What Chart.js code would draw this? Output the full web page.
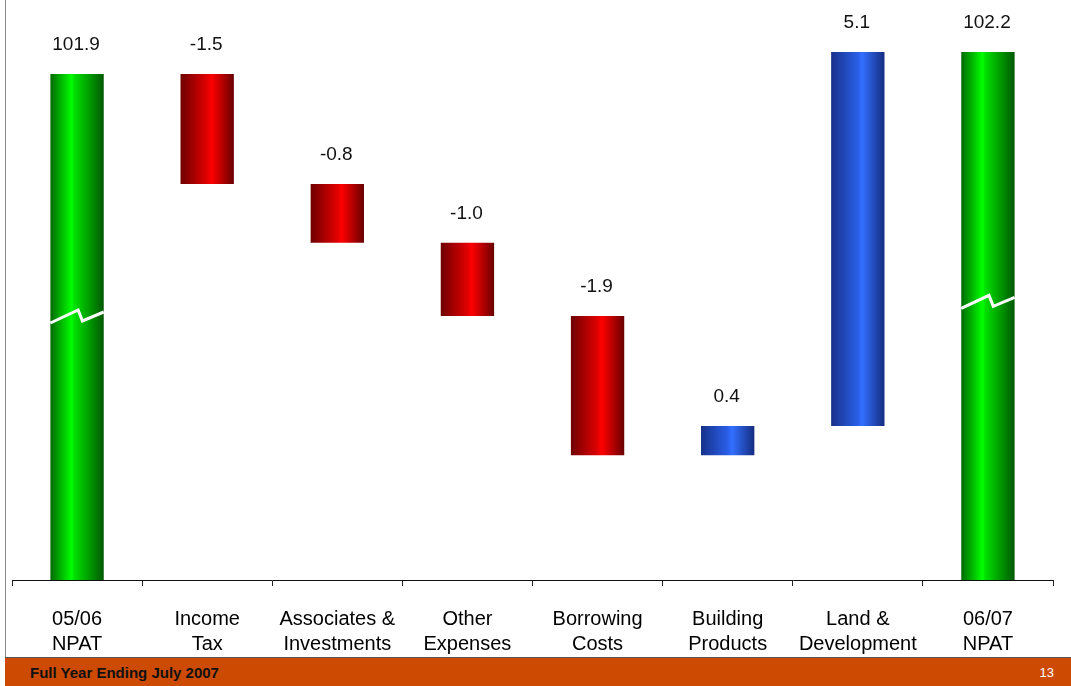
<!DOCTYPE html>
<html>
<head>
<meta charset="utf-8">
<script src="https://cdn.jsdelivr.net/npm/chart.js@4/dist/chart.umd.min.js"></script>
<style>
	body { margin: 0; background: #fff; font-family: Arial, 'Liberation Sans', sans-serif; }
	#slide { position: relative; width: 1071px; height: 686px; overflow: hidden; }
	#chartBox { position: absolute; left: 0; top: 0; width: 1071px; height: 657px; }
	#edge { position: absolute; left: 5px; top: 0; width: 0; height: 657px; border-left: 1px solid #8a8a8a; }
	#footer { position: absolute; left: 5px; top: 657px; width: 1066px; height: 29px; background: #cc4a02; border-top: 1px solid #555; box-sizing: border-box; }
	#footer .title { position: absolute; left: 25px; top: 6px; font-size: 15px; font-weight: bold; color: #111; }
	#footer .page { position: absolute; right: 17px; top: 7px; font-size: 13px; color: #fff; }
</style>
</head>
<body>
<div id="slide">
	<div id="chartBox"><canvas id="chart"></canvas></div>
	<div id="edge"></div>
	<div id="footer"><span class="title">Full Year Ending July 2007</span><span class="page">13</span></div>
</div>
<script>
const categories = [
	['05/06', 'NPAT'],
	['Income', 'Tax'],
	['Associates &', 'Investments'],
	['Other', 'Expenses'],
	['Borrowing', 'Costs'],
	['Building', 'Products'],
	['Land &', 'Development'],
	['06/07', 'NPAT'],
];
const openingNpat = 101.9;
const closingNpat = 102.2;
const movements = [-1.5, -0.8, -1.0, -1.9, 0.4, 5.1];
const axisFloor = 95; // broken axis starts here

// build floating [from, to] ranges for the waterfall
const ranges = [[axisFloor, openingNpat]];
const valueLabels = [openingNpat.toFixed(1)];
const kinds = ['total'];
let running = openingNpat;
movements.forEach((m) => {
	ranges.push([running, running + m]);
	running += m;
	valueLabels.push(m.toFixed(1));
	kinds.push(m < 0 ? 'down' : 'up');
});
ranges.push([axisFloor, closingNpat]);
valueLabels.push(closingNpat.toFixed(1));
kinds.push('total');

const BAR_PCT = 0.41;
const shades = {
	total: ['#006a00', '#00ff00', '#00e000', '#005800'],
	down: ['#6e0000', '#e00000', '#ff0000', '#680000'],
	up: ['#17318a', '#2a5ee8', '#3370ff', '#152c80'],
};

const barFill = (ctx) => {
	const chart = ctx.chart;
	const xs = chart.scales.x;
	const kind = kinds[ctx.dataIndex] || 'total';
	const s = shades[kind];
	if (!xs || ctx.type !== 'data') return s[1];
	const cx = xs.getPixelForValue(ctx.dataIndex);
	const w = (xs.width / categories.length) * BAR_PCT;
	if (!isFinite(cx) || !isFinite(w) || w <= 0) return s[1];
	const g = chart.ctx.createLinearGradient(cx - w / 2, 0, cx + w / 2, 0);
	g.addColorStop(0, s[0]);
	g.addColorStop(kind === 'total' ? 0.4 : 0.5, s[1]);
	g.addColorStop(kind === 'total' ? 0.45 : 0.58, s[2]);
	g.addColorStop(1, s[3]);
	return g;
};

// value labels above bars + axis-break marks on the total bars
const waterfallDecor = {
	id: 'waterfallDecor',
	afterDatasetsDraw(chart) {
		const { ctx } = chart;
		const meta = chart.getDatasetMeta(0);
		ctx.save();
		ctx.font = '19px Arial, "Liberation Sans", sans-serif';
		ctx.fillStyle = '#111';
		ctx.textAlign = 'center';
		ctx.textBaseline = 'middle';
		meta.data.forEach((bar, i) => {
			const top = Math.min(bar.y, bar.base);
			ctx.fillText(valueLabels[i], bar.x - 1, top - 29);
		});

		const breaks = { 0: 98.6, 7: 98.8 };
		const ys = chart.scales.y;
		ctx.strokeStyle = '#fff';
		ctx.lineWidth = 3;
		ctx.lineJoin = 'miter';
		Object.keys(breaks).forEach((k) => {
			const bar = meta.data[k];
			const w = bar.width;
			const l = bar.x - w / 2;
			const yc = ys.getPixelForValue(breaks[k]);
			ctx.beginPath();
			ctx.moveTo(l, yc + 7);
			ctx.lineTo(l + w * 0.52, yc - 6);
			ctx.lineTo(l + w * 0.6, yc + 5);
			ctx.lineTo(l + w, yc - 4);
			ctx.stroke();
		});
		ctx.restore();
	},
};

new Chart(document.getElementById('chart'), {
	type: 'bar',
	data: {
		labels: categories,
		datasets: [
			{
				data: ranges,
				backgroundColor: barFill,
				borderWidth: 0,
				categoryPercentage: 1,
				barPercentage: BAR_PCT,
			},
		],
	},
	options: {
		responsive: true,
		maintainAspectRatio: false,
		animation: false,
		events: [],
		layout: { padding: { top: 8, left: 12, right: 18, bottom: 0 } },
		plugins: {
			legend: { display: false },
			tooltip: { enabled: false },
		},
		scales: {
			x: {
				afterFit: (scale) => { scale.height = 77; },
				grid: {
					drawOnChartArea: false,
					drawTicks: true,
					tickLength: 6,
					color: '#222',
				},
				border: { display: true, color: '#111', width: 1 },
				ticks: {
					color: '#000',
					padding: 21,
					maxRotation: 0,
					autoSkip: false,
					font: { family: 'Arial, "Liberation Sans", sans-serif', size: 20, lineHeight: 1.25 },
				},
			},
			y: {
				display: false,
				min: axisFloor,
				max: 102.8,
			},
		},
	},
	plugins: [waterfallDecor],
});
</script>
</body>
</html>
